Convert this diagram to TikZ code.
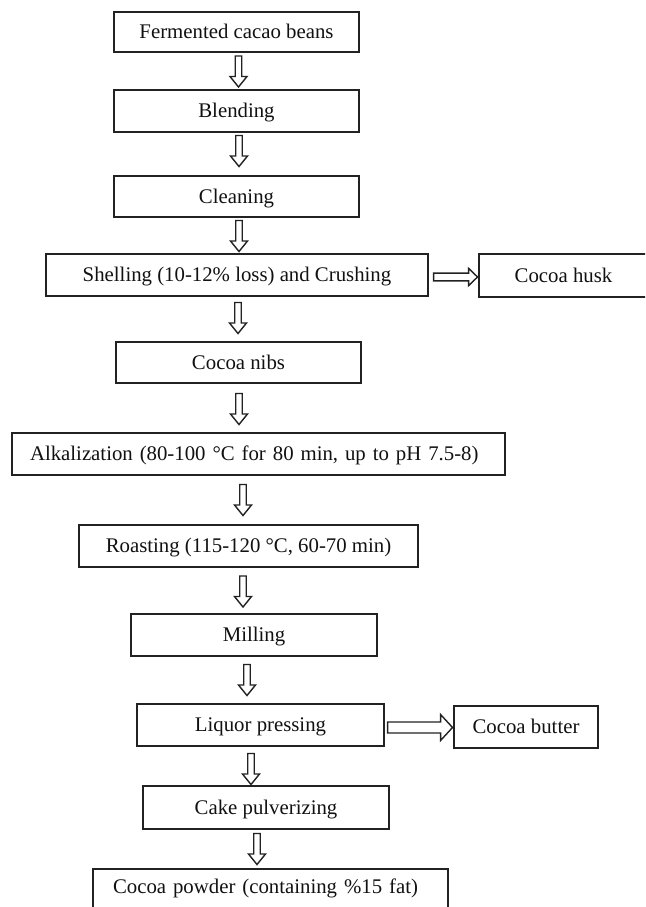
\documentclass[tikz,border=0pt]{standalone}
\usepackage{fontspec}
\setmainfont{Liberation Serif}
\definecolor{linecol}{HTML}{222222}
\definecolor{txtcol}{HTML}{111111}
\tikzset{
  boxnode/.style={draw=linecol, line width=1.1pt, inner sep=0pt, text=txtcol,
    font=\fontsize{20.8pt}{25pt}\selectfont, text height=13.8pt, text depth=0pt},
  varrow/.pic={\draw[linecol, line width=1.4pt, fill=white, line join=miter]
     (-3.25,-15.5) -- (3.25,-15.5) -- (3.25,5) -- (8.5,5) -- (0,15.5) -- (-8.5,5) -- (-3.25,5) -- cycle;},
  harrowsmall/.pic={\draw[linecol, line width=1.4pt, fill=white, line join=miter]
     (0,-3.9) -- (35,-3.9) -- (35,-8.7) -- (44,0) -- (35,8.7) -- (35,3.9) -- (0,3.9) -- cycle;},
  harrowbig/.pic={\draw[linecol, line width=1.4pt, fill=white, line join=miter]
     (0,-5.5) -- (53,-5.5) -- (53,-13) -- (65,0) -- (53,13) -- (53,5.5) -- (0,5.5) -- cycle;}
}
\begin{document}
\begin{tikzpicture}[x=1pt,y=-1pt]
\useasboundingbox (0,0) rectangle (645,907);
\clip (0,0) rectangle (645,907);
\fill[white] (0,0) rectangle (645,907);

\node[boxnode, minimum width=245pt, minimum height=40pt] (b1) at (236.5,32) {Fermented cacao beans};
\node[boxnode, minimum width=245pt, minimum height=42pt] (b2) at (236.5,111) {Blending};
\node[boxnode, minimum width=245pt, minimum height=41pt] (b3) at (236.5,196.5) {Cleaning};
\node[boxnode, minimum width=382pt, minimum height=42pt] (sh) at (237,275) {Shelling (10-12\% loss) and Crushing};
\node[boxnode, minimum width=169pt, minimum height=43pt] (husk) at (563.5,275.5) {Cocoa husk};
\node[boxnode, minimum width=245pt, minimum height=41pt] (nibs) at (238.5,362.5) {Cocoa nibs};
\node[boxnode, minimum height=42pt, inner xsep=18pt, text width=457pt, align=left] (alk) at (258.5,454) {Alkalization (80-100 °C for 80 min, up to pH 7.5-8)};
\node[boxnode, minimum width=339pt, minimum height=42pt] (roast) at (248.5,546) {Roasting (115-120 °C, 60-70 min)};
\node[boxnode, minimum width=246pt, minimum height=42pt] (mill) at (254,635) {Milling};
\node[boxnode, minimum width=247pt, minimum height=42pt] (liq) at (260.5,725) {Liquor pressing};
\node[boxnode, minimum width=144pt, minimum height=42pt] (butter) at (526,727) {Cocoa butter};
\node[boxnode, minimum width=246pt, minimum height=43pt] (cake) at (266,807.5) {Cake pulverizing};
\node[boxnode, minimum height=42pt, inner xsep=20pt, text width=315pt, align=left, text depth=7.2pt] (powder) at (270.5,890) {Cocoa powder (containing \%15 fat)};

\pic at (238.5,71.5) {varrow};
\pic at (239,151) {varrow};
\pic at (239,236) {varrow};
\pic at (238,318) {varrow};
\pic at (239,409) {varrow};
\pic at (243,500) {varrow};
\pic at (243,591.5) {varrow};
\pic at (247,680) {varrow};
\pic at (251,769) {varrow};
\pic at (257,849) {varrow};

\path ([xshift=5pt]sh.east |- 0,277) pic {harrowsmall};
\path ([xshift=3pt]liq.east |- 0,727.5) pic {harrowbig};
\end{tikzpicture}
\end{document}
